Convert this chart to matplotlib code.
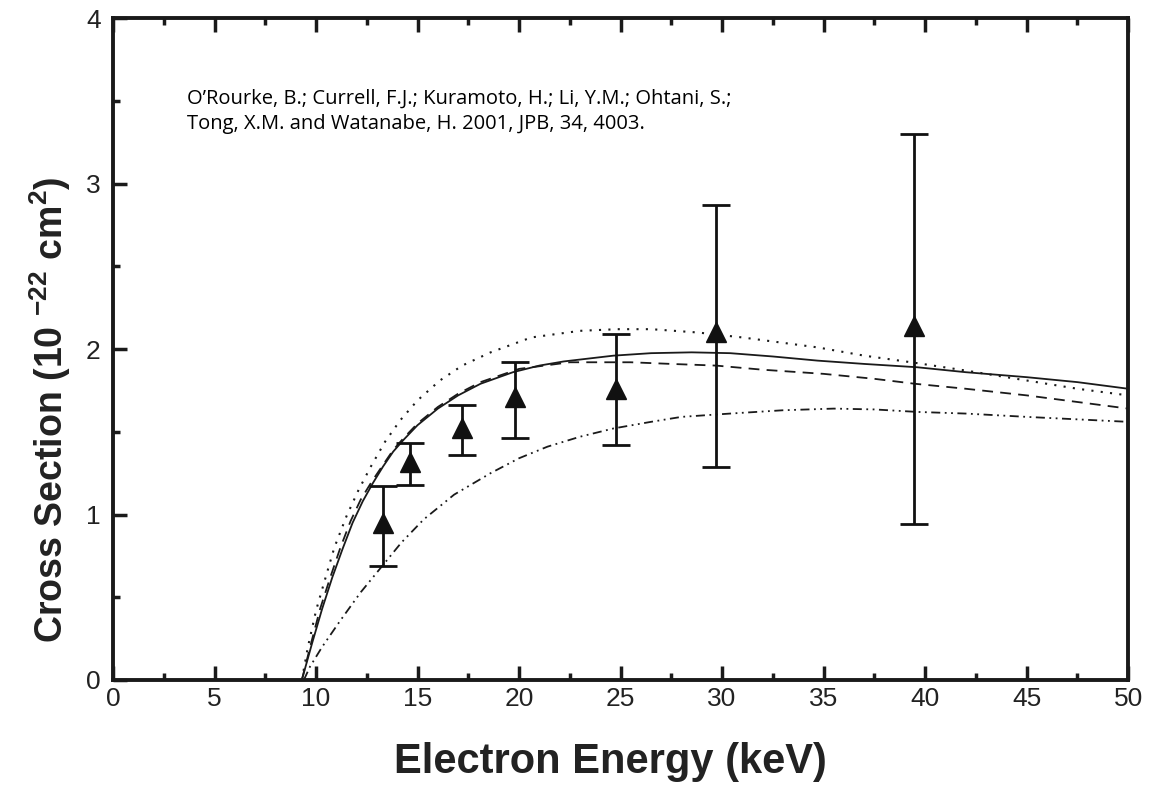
import matplotlib
matplotlib.use("Agg")
import matplotlib.pyplot as plt
from matplotlib.ticker import MultipleLocator

# measured cross sections (triangles) with error bar limits
energy = [13.3, 14.65, 17.2, 19.8, 24.75, 29.7, 39.45]
sigma = [0.95, 1.32, 1.52, 1.71, 1.76, 2.10, 2.14]
err_hi = [1.17, 1.43, 1.66, 1.92, 2.09, 2.87, 3.30]
err_lo = [0.69, 1.18, 1.36, 1.46, 1.42, 1.29, 0.94]

# theory curves
solid_x = [9.3, 9.8, 10.3, 10.8, 11.3, 11.8, 12.3, 12.8, 13.3, 13.8, 14.3, 15.0,
           16.0, 17.0, 18.1, 19.7, 21.0, 22.2, 24.65, 26.5, 28.5, 30.4, 32.5, 34.7,
           37.0, 39.6, 42.0, 45.0, 47.5, 50.0]
solid_y = [0.0, 0.22, 0.43, 0.62, 0.79, 0.95, 1.08, 1.19, 1.29, 1.38, 1.45, 1.54,
           1.64, 1.72, 1.79, 1.86, 1.90, 1.925, 1.96, 1.975, 1.98, 1.975, 1.955, 1.93,
           1.91, 1.89, 1.86, 1.83, 1.80, 1.76]
dash_x = [9.3, 9.75, 10.2, 10.7, 11.2, 11.7, 12.2, 12.75, 13.3, 13.8, 14.3, 15.0,
          16.0, 17.0, 18.1, 20.0, 22.5, 25.5, 27.5, 29.7, 32.0, 35.0, 37.5, 39.5,
          42.0, 45.0, 47.5, 50.0]
dash_y = [0.0, 0.22, 0.43, 0.62, 0.80, 0.96, 1.09, 1.20, 1.30, 1.39, 1.46, 1.55,
          1.65, 1.73, 1.80, 1.88, 1.92, 1.92, 1.91, 1.90, 1.875, 1.85, 1.82, 1.79,
          1.76, 1.72, 1.68, 1.64]
dot_x = [9.3, 9.6, 10.0, 10.4, 10.9, 11.5, 12.1, 12.7, 13.4, 14.15, 15.0, 16.1,
         17.2, 18.6, 20.6, 23.0, 24.85, 26.5, 28.8, 31.0, 34.7, 37.0, 39.6, 42.0,
         45.0, 47.5, 50.0]
dot_y = [0.0, 0.20, 0.42, 0.59, 0.80, 0.99, 1.15, 1.29, 1.44, 1.57, 1.69, 1.81,
         1.90, 1.98, 2.07, 2.11, 2.12, 2.12, 2.10, 2.07, 2.01, 1.96, 1.915, 1.87,
         1.81, 1.76, 1.72]
dd_x = [9.4, 9.7, 10.3, 11.2, 12.2, 13.2, 14.2, 15.3, 16.8, 18.6, 20.0, 21.4,
        23.0, 24.65, 26.5, 28.0, 30.4, 33.0, 35.5, 37.5, 39.6, 42.0, 45.0, 47.5, 50.0]
dd_y = [0.0, 0.08, 0.20, 0.36, 0.53, 0.68, 0.83, 0.97, 1.12, 1.25, 1.34, 1.41,
        1.47, 1.52, 1.56, 1.59, 1.61, 1.63, 1.64, 1.635, 1.62, 1.61, 1.59, 1.575, 1.56]

ref_text = ("O\u2019Rourke, B.; Currell, F.J.; Kuramoto, H.; Li, Y.M.; Ohtani, S.;\n"
            "Tong, X.M. and Watanabe, H. 2001, JPB, 34, 4003.")

plt.rcParams["font.family"] = ["Liberation Sans", "DejaVu Sans"]
plt.rcParams["mathtext.fontset"] = "custom"
plt.rcParams["mathtext.rm"] = "Liberation Sans:bold"
plt.rcParams["mathtext.default"] = "rm"

fig = plt.figure(figsize=(11.63, 7.87), dpi=100)
ax = fig.add_axes([0.0972, 0.136, 0.8728, 0.841])

lw = 1.3
ink = "#1a1a1a"
ax.plot(solid_x, solid_y, color=ink, lw=lw, ls="-")
ax.plot(dash_x, dash_y, color=ink, lw=lw, ls=(0, (6, 4)))
ax.plot(dot_x, dot_y, color=ink, lw=1.5, ls=(0, (1, 3.5)))
ax.plot(dd_x, dd_y, color=ink, lw=lw, ls=(0, (5, 2.5, 1, 2.5, 1, 2.5)))

yerr = [[s - lo for s, lo in zip(sigma, err_lo)], [hi - s for s, hi in zip(sigma, err_hi)]]
ax.errorbar(energy, sigma, yerr=yerr, fmt="^", color="#111111", ms=14,
            elinewidth=2.0, capsize=10, capthick=2.0, zorder=5)

ax.set_xlim(0, 50)
ax.set_ylim(0, 4)
ax.xaxis.set_major_locator(MultipleLocator(5))
ax.xaxis.set_minor_locator(MultipleLocator(2.5))
ax.yaxis.set_major_locator(MultipleLocator(1))
ax.yaxis.set_minor_locator(MultipleLocator(0.5))
ax.tick_params(which="both", direction="in", top=True, right=False, width=2.5,
               colors=ink, labelsize=19, labelcolor="#222222")
ax.tick_params(which="major", length=10)
ax.tick_params(which="minor", length=5)
ax.tick_params(axis="x", which="major", pad=5)
ax.tick_params(axis="y", which="major", pad=9)
for sp in ax.spines.values():
    sp.set_linewidth(2.8)
    sp.set_color(ink)

ax.set_xlabel("Electron Energy (keV)", fontsize=30, fontweight="bold",
              color="#222222", va="center")
ax.xaxis.set_label_coords(0.49, -0.124)
ax.set_ylabel("Cross Section (10 $^{-22}$ cm$^{2}$)", fontsize=27, fontweight="bold",
              color="#222222", va="center")
ax.yaxis.set_label_coords(-0.062, 0.408)

ax.text(0.073, 0.894, ref_text, transform=ax.transAxes, fontsize=14.5,
        family=["Open Sans", "DejaVu Sans"], va="top", ha="left", linespacing=1.4)

fig.savefig("out.png", dpi=100)
